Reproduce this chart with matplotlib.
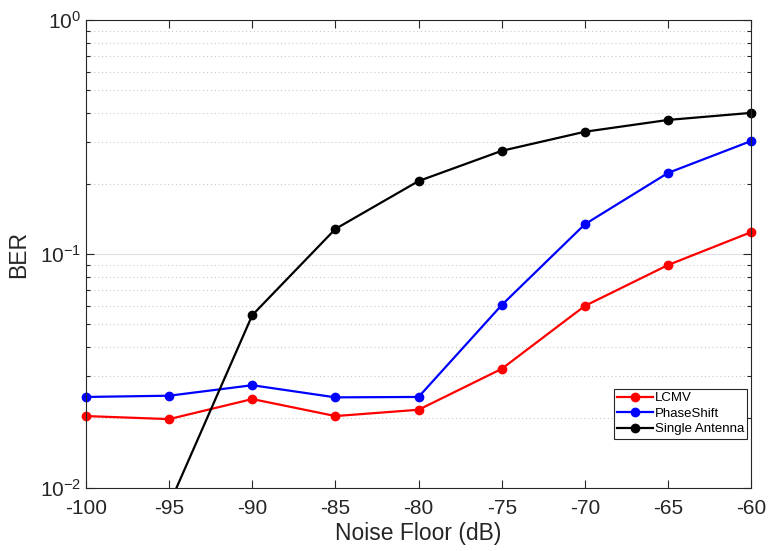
import numpy as np
import matplotlib
matplotlib.use('Agg')
import matplotlib.pyplot as plt
from matplotlib.ticker import LogLocator, NullFormatter

plt.rcParams['font.family'] = ['Liberation Sans', 'DejaVu Sans']
plt.rcParams['mathtext.fontset'] = 'custom'
plt.rcParams['mathtext.rm'] = 'Liberation Sans'
plt.rcParams['mathtext.it'] = 'Liberation Sans:italic'
plt.rcParams['mathtext.default'] = 'regular'

# noise floor sweep and measured bit error rates
noiseFloor = [-100, -95, -90, -85, -80, -75, -70, -65, -60]
berLCMV = [0.0203, 0.0197, 0.0240, 0.0203, 0.0216, 0.0323, 0.0600, 0.0897, 0.124]
berPhaseShift = [0.0245, 0.0248, 0.0275, 0.0244, 0.0245, 0.0605, 0.134, 0.222, 0.304]
berSingle = [np.nan, 0.0085, 0.0548, 0.128, 0.205, 0.276, 0.333, 0.374, 0.401]

textColor = '#262626'
yMin, yMax = 1e-2, 1

fig = plt.figure(figsize=(7.68, 5.51), dpi=100)
ax = fig.add_axes([0.112, 0.1143, 0.866, 0.8494])

for ber, col, name in [(berLCMV, 'red', 'LCMV'),
                       (berPhaseShift, 'blue', 'PhaseShift'),
                       (berSingle, 'black', 'Single Antenna')]:
    ber = np.array(ber)
    # lines stay clipped to the box, in-range markers may sit on the border
    ax.plot(noiseFloor, ber, '-', color=col, lw=1.6)
    inRange = np.ma.masked_outside(ber, yMin, yMax)
    ax.plot(noiseFloor, inRange, 'o', color=col, ms=6, clip_on=False)
    ax.plot([], [], '-o', color=col, lw=1.6, ms=6, label=name)

ax.set_yscale('log')
ax.set_xlim(-100, -60)
ax.set_ylim(yMin, yMax)
ax.set_xticks(noiseFloor)
ax.set_xticklabels([str(v) for v in noiseFloor])
ax.yaxis.set_minor_locator(LogLocator(base=10, subs=np.arange(2, 10)))
ax.yaxis.set_minor_formatter(NullFormatter())

# MATLAB-like grid: solid light major lines, dotted minor lines, y only
ax.grid(True, which='major', axis='y', color='#e0e0e0', lw=0.8, ls='-')
ax.grid(True, which='minor', axis='y', color='#c8c8c8', lw=0.8, ls=(0, (1, 2.5)))
ax.set_axisbelow(True)

ax.tick_params(which='both', direction='in', top=True, right=True,
               colors=textColor, labelsize=15, width=0.8)
ax.tick_params(which='major', length=6)
ax.tick_params(which='minor', length=3)
ax.tick_params(axis='x', which='major', pad=8)
for s in ax.spines.values():
    s.set_color(textColor)
    s.set_linewidth(0.8)

ax.set_xlabel('Noise Floor (dB)', fontsize=16.5, color=textColor, labelpad=3)
ax.set_ylabel('BER', fontsize=16.5, color=textColor, labelpad=7)

leg = ax.legend(loc='lower right', bbox_to_anchor=(0.9985, 0.1), fontsize=9.5,
                fancybox=False, framealpha=1, edgecolor=textColor,
                handlelength=2.7, handletextpad=0.15, borderpad=0.25,
                labelspacing=0.25, borderaxespad=0.2)
leg.get_frame().set_linewidth(0.8)

fig.savefig('out.png', dpi=100)
